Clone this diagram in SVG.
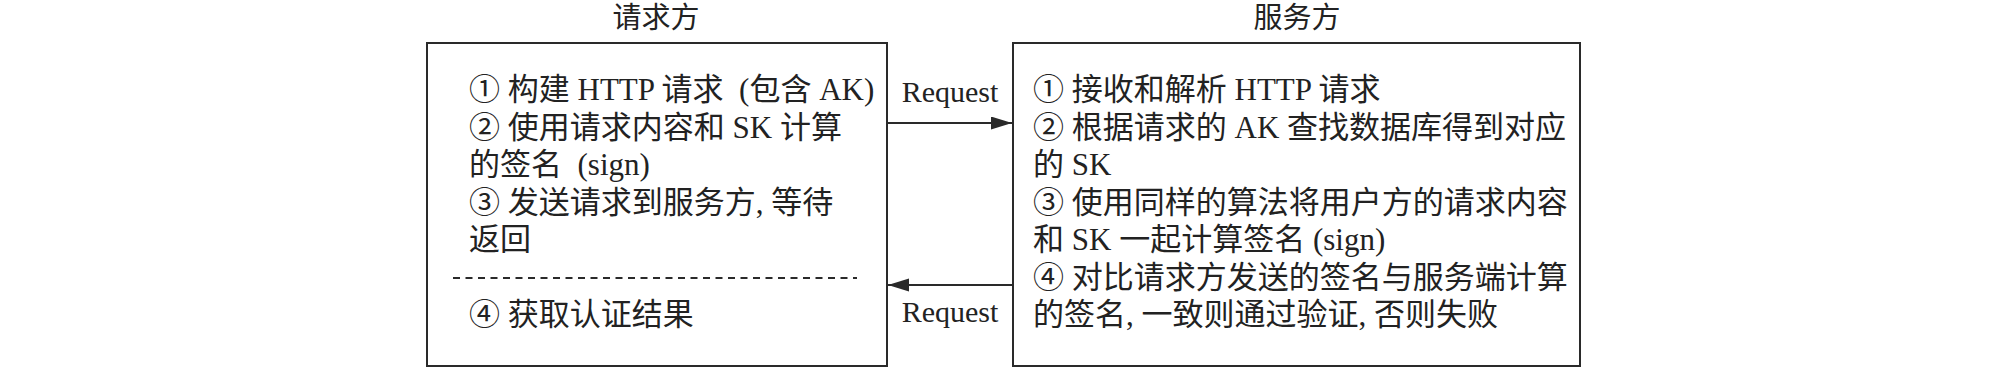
<svg xmlns="http://www.w3.org/2000/svg" width="2008" height="367" viewBox="0 0 2008 367">
<style>
.box{fill:#fff;stroke:#2a2a2a;stroke-width:2}
.t{font-family:"Liberation Serif","Noto Sans CJK SC",serif;font-size:31px;fill:#222}
.title{font-family:"Liberation Serif","Noto Sans CJK SC",serif;font-size:29px;fill:#222;text-anchor:middle}
.lbl{font-family:"Liberation Serif","Noto Sans CJK SC",serif;font-size:30px;fill:#222;text-anchor:middle}
.conn{stroke:#2a2a2a;stroke-width:2;fill:none}
.dash{stroke:#2a2a2a;stroke-width:2;stroke-dasharray:7 5.5}
</style>
<defs>
<marker id="ah" markerUnits="userSpaceOnUse" markerWidth="22" markerHeight="14" refX="21" refY="6.5" orient="auto">
<path d="M0,0 L21,6.5 L0,13 z" fill="#2a2a2a"/>
</marker>
</defs>
<rect width="2008" height="367" fill="#fff"/>
<g id="requester">
<rect class="box" x="427" y="43" width="460" height="323"/>
<text class="title" x="656" y="28">请求方</text>
<text class="t" xml:space="preserve"><tspan x="469" y="100">① 构建 HTTP 请求  (包含 AK)</tspan><tspan x="469" y="137.5">② 使用请求内容和 SK 计算</tspan><tspan x="469" y="175">的签名  (sign)</tspan><tspan x="469" y="212.5">③ 发送请求到服务方, 等待</tspan><tspan x="469" y="250">返回</tspan></text>
<line class="dash" x1="453" y1="278" x2="857" y2="278"/>
<text class="t" x="469" y="325">④ 获取认证结果</text>
</g>
<g id="server">
<rect class="box" x="1013" y="43" width="567" height="323"/>
<text class="title" x="1297" y="28">服务方</text>
<text class="t" xml:space="preserve"><tspan x="1033" y="100">① 接收和解析 HTTP 请求</tspan><tspan x="1033" y="137.5">② 根据请求的 AK 查找数据库得到对应</tspan><tspan x="1033" y="175">的 SK</tspan><tspan x="1033" y="212.5">③ 使用同样的算法将用户方的请求内容</tspan><tspan x="1033" y="250">和 SK 一起计算签名 (sign)</tspan><tspan x="1033" y="287.5">④ 对比请求方发送的签名与服务端计算</tspan><tspan x="1033" y="325">的签名, 一致则通过验证, 否则失败</tspan></text>
</g>
<g id="connectors">
<line class="conn" x1="888" y1="123" x2="1012" y2="123" marker-end="url(#ah)"/>
<text class="lbl" x="950" y="102">Request</text>
<line class="conn" x1="1012" y1="285" x2="888" y2="285" marker-end="url(#ah)"/>
<text class="lbl" x="950" y="322">Request</text>
</g>
</svg>
